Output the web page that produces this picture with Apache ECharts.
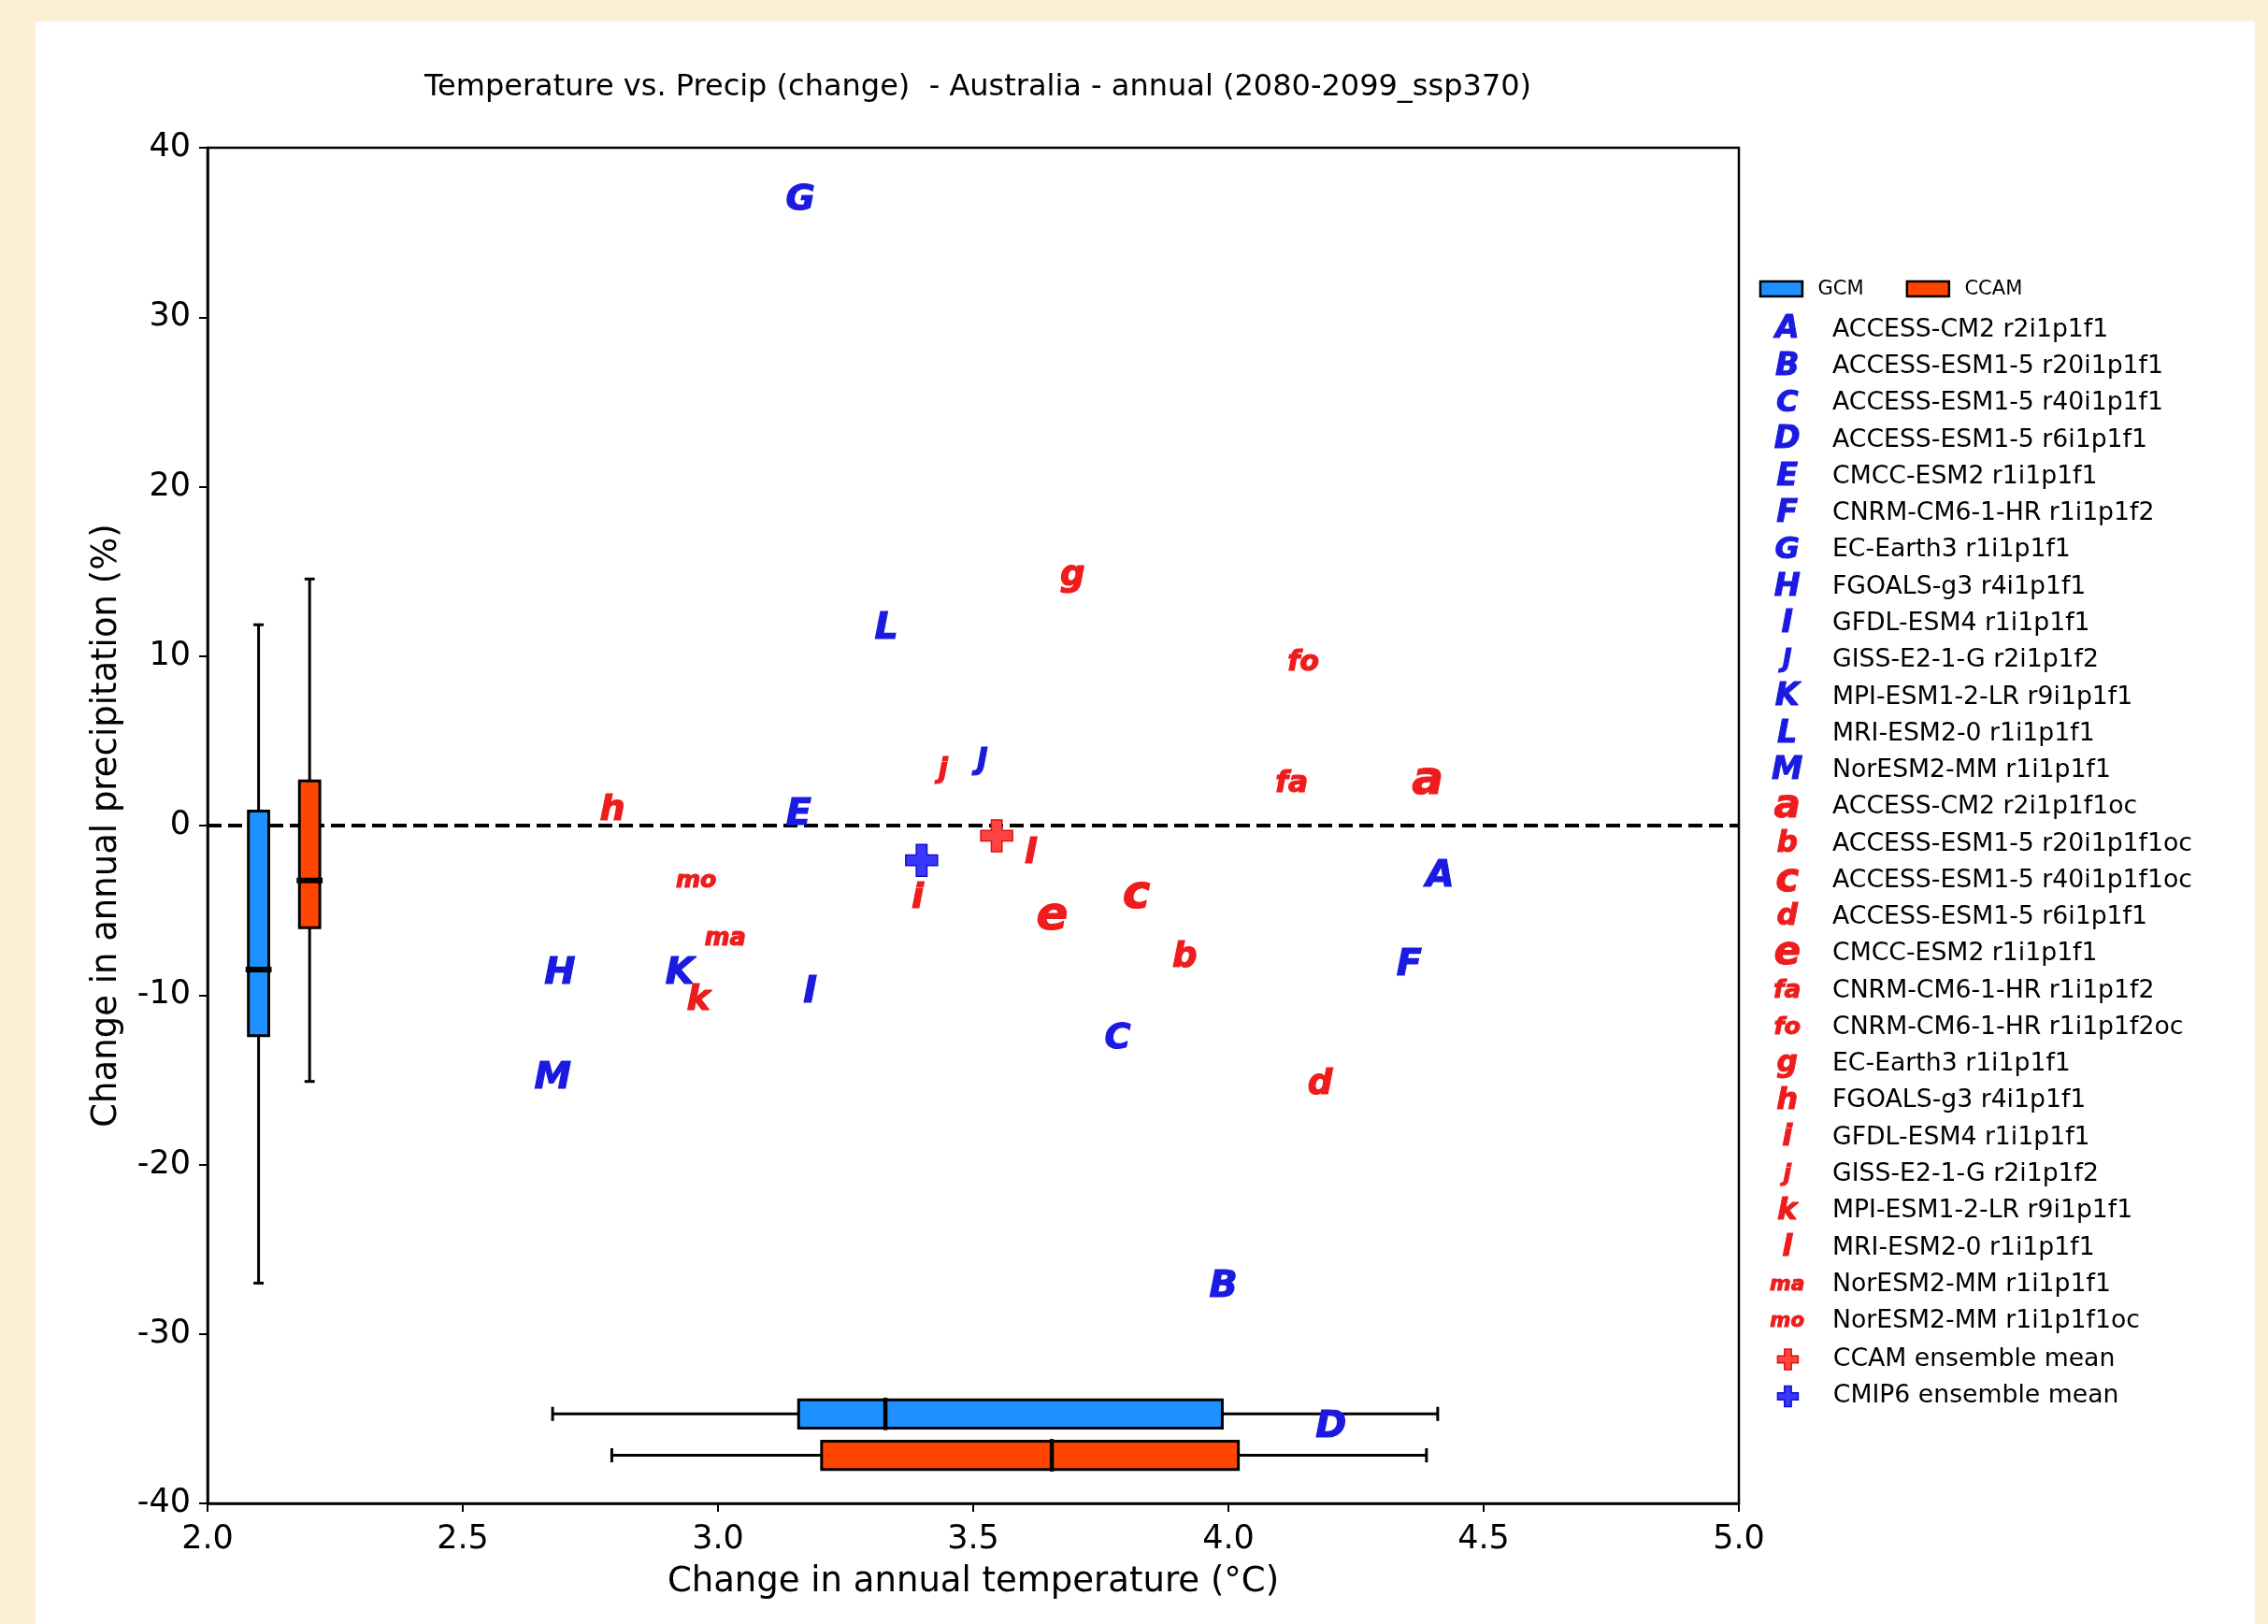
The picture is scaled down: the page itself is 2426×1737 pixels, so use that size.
<!DOCTYPE html>
<html>
<head>
<meta charset="utf-8">
<title>Temperature vs. Precip (change) - Australia</title>
<script src="https://cdn.jsdelivr.net/npm/echarts@6/dist/echarts.min.js"></script>
<style>
  html, body { margin: 0; padding: 0; width: 2426px; height: 1737px; overflow: hidden; background: #fbefd6; }
  #chart { position: absolute; left: 38px; top: 23px; width: 2374px; height: 1714px; background: #fff; }
</style>
</head>
<body>
<div id="chart"></div>
<script>
// ---- data ----
// GCM runs (blue capitals)
const gcmCodes = ['A', 'B', 'C', 'D', 'E', 'F', 'G', 'H', 'I', 'J', 'K', 'L', 'M'];
const gcmNames = [
  'ACCESS-CM2 r2i1p1f1', 'ACCESS-ESM1-5 r20i1p1f1', 'ACCESS-ESM1-5 r40i1p1f1', 'ACCESS-ESM1-5 r6i1p1f1',
  'CMCC-ESM2 r1i1p1f1', 'CNRM-CM6-1-HR r1i1p1f2', 'EC-Earth3 r1i1p1f1', 'FGOALS-g3 r4i1p1f1',
  'GFDL-ESM4 r1i1p1f1', 'GISS-E2-1-G r2i1p1f2', 'MPI-ESM1-2-LR r9i1p1f1', 'MRI-ESM2-0 r1i1p1f1',
  'NorESM2-MM r1i1p1f1'
];
const gcmTemp   = [4.41, 3.988, 3.784, 4.20, 3.158, 4.354, 3.161, 2.69, 3.18, 3.512, 2.928, 3.328, 2.676];
const gcmPrecip = [-2.8, -27.0, -12.4, -35.3, 0.85, -8.0, 37.1, -8.5, -9.6, 3.8, -8.5, 11.85, -14.7];

// CCAM downscaled runs (red lower case)
const ccamCodes = ['a', 'b', 'c', 'd', 'e', 'fa', 'fo', 'g', 'h', 'i', 'j', 'k', 'l', 'ma', 'mo'];
const ccamNames = [
  'ACCESS-CM2 r2i1p1f1oc', 'ACCESS-ESM1-5 r20i1p1f1oc', 'ACCESS-ESM1-5 r40i1p1f1oc', 'ACCESS-ESM1-5 r6i1p1f1',
  'CMCC-ESM2 r1i1p1f1', 'CNRM-CM6-1-HR r1i1p1f2', 'CNRM-CM6-1-HR r1i1p1f2oc', 'EC-Earth3 r1i1p1f1',
  'FGOALS-g3 r4i1p1f1', 'GFDL-ESM4 r1i1p1f1', 'GISS-E2-1-G r2i1p1f2', 'MPI-ESM1-2-LR r9i1p1f1',
  'MRI-ESM2-0 r1i1p1f1', 'NorESM2-MM r1i1p1f1', 'NorESM2-MM r1i1p1f1oc'
];
const ccamTemp   = [4.388, 3.915, 3.821, 4.181, 3.654, 4.124, 4.147, 3.694, 2.792, 3.393, 3.438, 2.965, 3.614, 3.013, 2.957];
const ccamPrecip = [2.64, -7.6, -4.1, -15.1, -5.4, 2.64, 9.8, 14.55, 1.1, -4.1, 3.3, -10.1, -1.45, -6.65, -3.24];

// ensemble means (plus markers)
const meanNames  = ['CCAM ensemble mean', 'CMIP6 ensemble mean'];
const meanTemp   = [3.546, 3.399];
const meanPrecip = [-0.6, -2.05];

// axes
const xRange = [2.0, 5.0];
const yRange = [-40, 40];

// ---- styling ----
const BLUE = '#1a1ae0';
const RED = '#ee1c1c';
const GCM_FILL = '#1e90ff';
const CCAM_FILL = '#ff4500';
const FONT = 'DejaVu Sans';
const PLOT_GLYPH = 29;     // glyph size (px) of the letter markers
const LEGEND_GLYPH = 24.5;
const MULTI_SCALE = { fa: 1.1, fo: 1.1, ma: 1.45, mo: 1.45 };  // two-letter markers: width relative to glyph size
const ROW = 39.27;         // legend row pitch
const V_BOX_POS = { GCM: 2.1, CCAM: 2.2 };        // boxes of precipitation change
const H_BOX_POS = { GCM: -34.72, CCAM: -37.16 };  // boxes of temperature change
const V_BOX_W = 0.04;
const H_BOX_H = 1.67;
const PLUS = 'path://M2,0L4,0L4,2L6,2L6,4L4,4L4,6L2,6L2,4L0,4L0,2L2,2Z';

// letter markers are scaled to a common size, like matplotlib text markers
const ctx = document.createElement('canvas').getContext('2d');
function measure(txt, size) {
  ctx.font = 'italic bold ' + size + 'px "' + FONT + '"';
  ctx.textAlign = 'center';
  ctx.textBaseline = 'middle';
  return ctx.measureText(txt);
}
function glyphFont(txt, target) {
  const m = measure(txt, 100);
  const w = m.actualBoundingBoxLeft + m.actualBoundingBoxRight;
  const h = m.actualBoundingBoxAscent + m.actualBoundingBoxDescent;
  return MULTI_SCALE[txt] ? 100 * target * MULTI_SCALE[txt] / w : 100 * target / h;
}
function glyphOffset(txt, size) {
  const m = measure(txt, size);
  return [(m.actualBoundingBoxLeft - m.actualBoundingBoxRight) / 2,
          (m.actualBoundingBoxAscent - m.actualBoundingBoxDescent) / 2];
}

// matplotlib-style box statistics (linear quantiles, 1.5 IQR whiskers)
function quantile(sorted, q) {
  const p = (sorted.length - 1) * q;
  const i = Math.floor(p);
  const f = p - i;
  return i + 1 < sorted.length ? sorted[i] + f * (sorted[i + 1] - sorted[i]) : sorted[i];
}
function boxStats(values) {
  const s = values.slice().sort((a, b) => a - b);
  const q1 = quantile(s, 0.25), md = quantile(s, 0.5), q3 = quantile(s, 0.75);
  const iqr = q3 - q1;
  const lo = s.filter(v => v >= q1 - 1.5 * iqr)[0];
  const hiArr = s.filter(v => v <= q3 + 1.5 * iqr);
  const hi = hiArr[hiArr.length - 1];
  return [lo, q1, md, q3, hi];
}

function renderBox(params, api) {
  const horiz = api.value(0) === 1;
  const pos = api.value(1);
  const lo = api.value(2), q1 = api.value(3), md = api.value(4), q3 = api.value(5), hi = api.value(6);
  const half = (horiz ? H_BOX_H : V_BOX_W) / 2;
  const pt = (v, off) => horiz ? api.coord([v, pos + off]) : api.coord([pos + off, v]);
  const seg = (a, b, w, cap) => ({
    type: 'line',
    shape: { x1: a[0], y1: a[1], x2: b[0], y2: b[1] },
    style: { stroke: '#000', lineWidth: w, lineCap: cap || 'butt' }
  });
  return {
    type: 'group',
    children: [
      seg(pt(lo, 0), pt(q1, 0), 3),
      seg(pt(q3, 0), pt(hi, 0), 3),
      seg(pt(lo, -half / 2), pt(lo, half / 2), 3),
      seg(pt(hi, -half / 2), pt(hi, half / 2), 3),
      {
        type: 'polygon',
        shape: { points: [pt(q1, -half), pt(q1, half), pt(q3, half), pt(q3, -half)] },
        style: { fill: api.visual('color'), stroke: '#000', lineWidth: 3 }
      },
      seg(pt(md, -half), pt(md, half), horiz ? 4.5 : 6, 'square')
    ]
  };
}

function boxSeries(name, temps, precs, fill) {
  return {
    type: 'custom',
    name: name,
    z: 3,
    silent: true,
    itemStyle: { color: fill, borderColor: '#000', borderWidth: 2 },
    renderItem: renderBox,
    data: [
      [0, V_BOX_POS[name]].concat(boxStats(precs)),
      [1, H_BOX_POS[name]].concat(boxStats(temps))
    ]
  };
}

const letterSeries = [];
const legendRich = {
  lt: { fontSize: 26.7, fontFamily: FONT, color: '#000' }
};
const legendText = {};
const letterLegend = [];

function addLetters(codes, names, temps, precs, color) {
  codes.forEach((code, i) => {
    const id = code + ' ' + names[i];
    const f = glyphFont(code, PLOT_GLYPH);
    letterSeries.push({
      type: 'scatter',
      name: id,
      symbol: 'circle',
      symbolSize: 1,
      z: 5,
      silent: true,
      itemStyle: { color: 'rgba(0,0,0,0)', opacity: 1 },
      label: {
        show: true, position: 'inside', formatter: code,
        fontSize: f, fontStyle: 'italic', fontWeight: 'bold', fontFamily: FONT,
        color: color, textBorderColor: color, textBorderWidth: 1.2,
        offset: glyphOffset(code, f)
      },
      data: [[temps[i], precs[i]]]
    });
    const key = 'g' + letterLegend.length;
    legendRich[key] = {
      width: 96.6, align: 'center',
      fontSize: glyphFont(code, LEGEND_GLYPH), fontStyle: 'italic', fontWeight: 'bold',
      fontFamily: FONT, color: color, textBorderColor: color, textBorderWidth: 1
    };
    legendText[id] = '{' + key + '|' + code + '}{lt|' + names[i] + '}';
    letterLegend.push({ name: id, icon: 'rect', itemStyle: { color: 'rgba(0,0,0,0)', borderWidth: 0 } });
  });
}
addLetters(gcmCodes, gcmNames, gcmTemp, gcmPrecip, BLUE);
addLetters(ccamCodes, ccamNames, ccamTemp, ccamPrecip, RED);

const meanStyles = [
  { color: '#ff4444', borderColor: '#d81010', borderWidth: 1.5, opacity: 1 },
  { color: '#3838ff', borderColor: '#1010c8', borderWidth: 1.5, opacity: 1 }
];
const meanSeries = meanNames.map((n, i) => ({
  type: 'scatter',
  name: n,
  symbol: PLUS,
  symbolSize: 34,
  z: 4,
  silent: true,
  itemStyle: meanStyles[i],
  data: [[meanTemp[i], meanPrecip[i]]]
}));

const gcmBox = boxSeries('GCM', gcmTemp, gcmPrecip, GCM_FILL);
gcmBox.markLine = {
  silent: true, symbol: 'none', z: 1,
  label: { show: false },
  lineStyle: { type: [15, 7], width: 4, color: '#000' },
  data: [{ yAxis: 0 }]
};

// legend rows: tall invisible icons keep every letter row the same height
const LEGEND_ITEM_H = 60;
const firstRowCenter = 352.9 - 23;
const MEAN_ICON = 22;

const chart = echarts.init(document.getElementById('chart'));
chart.setOption({
  animation: false,
  textStyle: { fontFamily: FONT, color: '#000' },
  title: {
    text: 'Temperature vs. Precip (change)  - Australia - annual (2080-2099_ssp370)',
    left: 1008, top: 71, padding: 0,
    textAlign: 'center', textVerticalAlign: 'middle',
    textStyle: { fontSize: 32, fontWeight: 'normal', fontFamily: FONT, color: '#000' }
  },
  grid: {
    left: 184, top: 135, width: 1638, height: 1450,
    show: true, borderColor: '#000', borderWidth: 2.5, backgroundColor: 'transparent'
  },
  xAxis: {
    type: 'value', min: xRange[0], max: xRange[1], interval: 0.5,
    name: 'Change in annual temperature (°C)', nameLocation: 'middle', nameGap: 66,
    nameTextStyle: { fontSize: 37, color: '#000' },
    axisLine: { onZero: false, lineStyle: { color: '#000', width: 2.5 } },
    axisTick: { length: 9, lineStyle: { color: '#000', width: 2 } },
    axisLabel: { fontSize: 35, color: '#000', margin: 21, formatter: v => v.toFixed(1) },
    splitLine: { show: false }
  },
  yAxis: {
    type: 'value', min: yRange[0], max: yRange[1], interval: 10,
    name: 'Change in annual precipitation (%)', nameLocation: 'middle', nameGap: 89,
    nameTextStyle: { fontSize: 37, color: '#000' },
    axisLine: { onZero: false, lineStyle: { color: '#000', width: 2.5 } },
    axisTick: { length: 9, lineStyle: { color: '#000', width: 2 } },
    axisLabel: { fontSize: 35, color: '#000', margin: 18 },
    splitLine: { show: false }
  },
  legend: [
    {
      orient: 'horizontal', left: 1843.7, top: 275.6, padding: 0,
      itemWidth: 45, itemHeight: 16, itemGap: 45, selectedMode: false,
      data: [
        { name: 'GCM', icon: 'rect', itemStyle: { color: GCM_FILL, borderColor: '#000', borderWidth: 2.5 } },
        { name: 'CCAM', icon: 'rect', itemStyle: { color: CCAM_FILL, borderColor: '#000', borderWidth: 2.5 } }
      ],
      formatter: n => '{t|' + n + '}',
      textStyle: { rich: { t: { fontSize: 21, fontFamily: FONT, color: '#000', padding: [0, 0, 0, 11.6] } } }
    },
    {
      orient: 'vertical', left: 1819.4, top: firstRowCenter - LEGEND_ITEM_H / 2, padding: 0,
      itemWidth: 1, itemHeight: LEGEND_ITEM_H, itemGap: ROW - LEGEND_ITEM_H, selectedMode: false,
      data: letterLegend,
      formatter: n => legendText[n],
      textStyle: { rich: legendRich }
    },
    {
      orient: 'vertical', left: 1911.7 - 38 - MEAN_ICON / 2,
      top: firstRowCenter + letterLegend.length * ROW - 12, padding: 0,
      itemWidth: 86.6, itemHeight: MEAN_ICON, itemGap: 12.5, selectedMode: false,
      itemStyle: { borderWidth: 1.5 },
      data: meanNames.map(n => ({ name: n, icon: PLUS })),
      formatter: n => '{t|' + n + '}',
      textStyle: { rich: { t: { fontSize: 26.7, lineHeight: 30, fontFamily: FONT, color: '#000' } } }
    }
  ],
  series: [gcmBox, boxSeries('CCAM', ccamTemp, ccamPrecip, CCAM_FILL)]
    .concat(meanSeries, letterSeries)
});
</script>
</body>
</html>
